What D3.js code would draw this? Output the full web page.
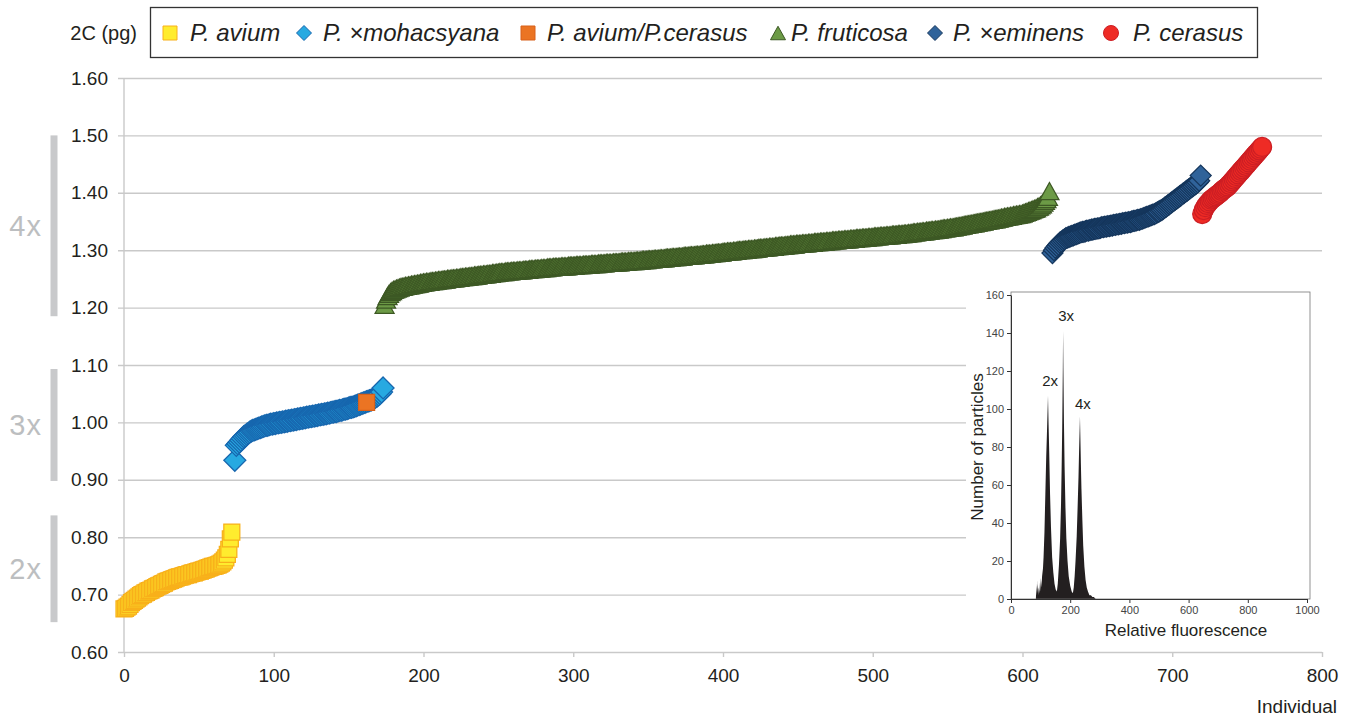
<!DOCTYPE html>
<html><head><meta charset="utf-8">
<script src="https://cdn.jsdelivr.net/npm/d3@7"></script>
<style>
body{margin:0;background:#fff}
svg{display:block}
text{font-family:"Liberation Sans",Arial,Helvetica,sans-serif}
</style>
</head><body>
<svg id="c" width="1353" height="718"></svg>
<script>
// ---------- DATA ----------
const seriesNames = ["P. avium","P. ×mohacsyana","P. avium/P.cerasus","P. fruticosa","P. ×eminens","P. cerasus"];
const seriesStart = [0, 74, 162, 174, 620, 720]; // first "Individual" index of each series

const avium = [
0.675,0.676,0.678,0.680,0.683,0.686,0.688,0.690,0.692,0.694,
0.696,0.698,0.700,0.701,0.703,0.704,0.706,0.707,0.708,0.710,
0.711,0.712,0.714,0.715,0.716,0.718,0.719,0.720,0.722,0.723,
0.724,0.725,0.726,0.727,0.728,0.729,0.730,0.731,0.731,0.732,
0.733,0.734,0.735,0.735,0.736,0.737,0.738,0.738,0.739,0.740,
0.741,0.741,0.742,0.743,0.744,0.745,0.746,0.747,0.748,0.749,
0.749,0.750,0.751,0.752,0.753,0.755,0.757,0.760,0.764,0.770,
0.779,0.797,0.809];

const mohacsyana = [
0.934,0.960,0.963,0.966,0.969,0.972,
0.975,0.977,0.979,0.981,0.983,0.985,0.986,0.987,0.988,0.989,
0.990,0.991,0.992,0.993,0.994,0.995,0.995,0.996,0.997,0.997,
0.998,0.998,0.999,0.999,1.000,1.000,1.001,1.001,1.002,1.002,
1.003,1.003,1.004,1.004,1.005,1.005,1.006,1.006,1.007,1.007,
1.008,1.008,1.009,1.009,1.010,1.010,1.011,1.011,1.012,1.012,
1.013,1.013,1.014,1.014,1.015,1.015,1.016,1.016,1.017,1.018,
1.018,1.019,1.019,1.020,1.021,1.021,1.022,1.023,1.023,1.024,
1.025,1.026,1.026,1.027,1.028,1.029,1.030,1.031,1.032,1.033,
1.034,1.035,1.036,1.037,1.038,1.039,1.040,1.042,1.044,1.046,
1.048,1.050,1.053,1.060];

const aviumCerasus = [1.035];

const fruticosa = [
1.205,1.214,1.220,1.224,1.227,1.229,
1.231,1.232,1.233,1.234,1.235,1.236,1.236,1.237,1.238,1.238,
1.239,1.239,1.240,1.240,1.241,1.241,1.242,1.242,1.243,1.243,
1.244,1.244,1.245,1.245,1.245,1.246,1.246,1.246,1.247,1.247,
1.248,1.248,1.248,1.249,1.249,1.249,1.250,1.250,1.250,1.251,
1.251,1.251,1.252,1.252,1.252,1.253,1.253,1.253,1.254,1.254,
1.254,1.255,1.255,1.255,1.256,1.256,1.256,1.257,1.257,1.257,
1.258,1.258,1.258,1.259,1.259,1.259,1.260,1.260,1.260,1.261,
1.261,1.262,1.262,1.262,1.262,1.263,1.263,1.263,1.263,1.264,
1.264,1.264,1.264,1.265,1.265,1.265,1.265,1.266,1.266,1.266,
1.266,1.267,1.267,1.267,1.267,1.268,1.268,1.268,1.268,1.269,
1.269,1.269,1.269,1.270,1.270,1.270,1.270,1.271,1.271,1.271,
1.271,1.271,1.272,1.272,1.272,1.272,1.272,1.273,1.273,1.273,
1.273,1.273,1.274,1.274,1.274,1.274,1.274,1.275,1.275,1.275,
1.275,1.275,1.276,1.276,1.276,1.276,1.276,1.277,1.277,1.277,
1.277,1.277,1.278,1.278,1.278,1.278,1.278,1.279,1.279,1.279,
1.279,1.279,1.280,1.280,1.280,1.280,1.280,1.281,1.281,1.281,
1.281,1.281,1.282,1.282,1.282,1.282,1.283,1.283,1.283,1.283,
1.284,1.284,1.284,1.284,1.285,1.285,1.285,1.285,1.286,1.286,
1.286,1.286,1.287,1.287,1.287,1.287,1.288,1.288,1.288,1.288,
1.289,1.289,1.289,1.289,1.290,1.290,1.290,1.290,1.291,1.291,
1.291,1.291,1.292,1.292,1.292,1.292,1.293,1.293,1.293,1.294,
1.294,1.294,1.294,1.295,1.295,1.295,1.296,1.296,1.296,1.296,
1.297,1.297,1.297,1.298,1.298,1.298,1.298,1.299,1.299,1.299,
1.300,1.300,1.300,1.300,1.301,1.301,1.301,1.302,1.302,1.302,
1.302,1.303,1.303,1.303,1.304,1.304,1.304,1.304,1.305,1.305,
1.305,1.306,1.306,1.306,1.306,1.307,1.307,1.307,1.308,1.308,
1.308,1.308,1.309,1.309,1.309,1.310,1.310,1.310,1.310,1.311,
1.311,1.311,1.311,1.312,1.312,1.312,1.312,1.313,1.313,1.313,
1.313,1.314,1.314,1.314,1.314,1.315,1.315,1.315,1.315,1.316,
1.316,1.316,1.316,1.317,1.317,1.317,1.317,1.318,1.318,1.318,
1.318,1.319,1.319,1.319,1.319,1.320,1.320,1.320,1.320,1.321,
1.321,1.321,1.321,1.322,1.322,1.322,1.322,1.323,1.323,1.323,
1.323,1.324,1.324,1.324,1.324,1.325,1.325,1.325,1.325,1.326,
1.326,1.326,1.326,1.327,1.327,1.327,1.327,1.328,1.328,1.328,
1.328,1.329,1.329,1.329,1.330,1.330,1.330,1.331,1.331,1.331,
1.332,1.332,1.332,1.333,1.333,1.333,1.334,1.334,1.334,1.335,
1.335,1.335,1.336,1.336,1.336,1.337,1.337,1.338,1.338,1.338,
1.339,1.339,1.340,1.340,1.340,1.341,1.341,1.342,1.342,1.343,
1.343,1.344,1.344,1.345,1.345,1.346,1.346,1.347,1.347,1.348,
1.348,1.349,1.349,1.350,1.350,1.351,1.351,1.352,1.352,1.353,
1.353,1.354,1.354,1.355,1.355,1.356,1.357,1.357,1.358,1.358,
1.359,1.359,1.360,1.360,1.361,1.361,1.362,1.362,1.363,1.363,
1.364,1.365,1.366,1.367,1.368,1.369,1.370,1.371,1.372,1.373,
1.375,1.376,1.378,1.380,1.383,1.386,1.389,1.393,1.403];

const eminens = [
1.295,1.300,1.304,1.307,1.310,1.313,1.315,1.317,1.319,1.321,
1.322,1.323,1.324,1.325,1.326,1.327,1.328,1.329,1.330,1.331,
1.332,1.332,1.333,1.334,1.334,1.335,1.336,1.336,1.337,1.337,
1.338,1.338,1.339,1.340,1.340,1.341,1.341,1.342,1.342,1.343,
1.343,1.344,1.344,1.345,1.345,1.346,1.346,1.347,1.347,1.348,
1.348,1.349,1.349,1.350,1.351,1.351,1.352,1.353,1.353,1.354,
1.355,1.356,1.357,1.358,1.359,1.360,1.361,1.362,1.363,1.364,
1.366,1.367,1.369,1.370,1.372,1.374,1.376,1.378,1.380,1.382,
1.384,1.386,1.388,1.390,1.392,1.394,1.396,1.398,1.400,1.402,
1.404,1.406,1.408,1.410,1.412,1.414,1.416,1.418,1.421,1.430];

const cerasus = [
1.363,1.370,1.375,1.379,1.382,1.385,1.388,1.390,1.392,1.394,
1.396,1.398,1.400,1.403,1.405,1.407,1.409,1.411,1.414,1.417,
1.420,1.423,1.426,1.429,1.432,1.435,1.438,1.441,1.444,1.447,
1.450,1.453,1.456,1.459,1.462,1.465,1.468,1.471,1.474,1.477,
1.480];

const xTicks = [0,100,200,300,400,500,600,700,800];
const yTicks = [0.60,0.70,0.80,0.90,1.00,1.10,1.20,1.30,1.40,1.50,1.60];

const ploidyLabels = ["2x","3x","4x"];
const ploidyRanges = [[0.652,0.838],[0.898,1.093],[1.185,1.500]];

// inset: flow cytometry histogram
const histFluor = [84,86,87,88,89,91,92,94,96,98,99,101,103,105,108,110,113,116,119,121,123,125,127,129,132,135,139,143,147,151,155,158,162,166,169,171,173,175,176,177,179,181,184,187,191,195,200,205,209,212,215,218,222,225,228,230,232,233,234,236,238,241,244,248,252,256,260,265,270,275,280,286];
const histCount = [0,7,2,10,3,8,2,6,3,9,4,11,6,12,16,22,35,55,75,85,96,107,92,78,55,38,22,14,8,5,4,8,18,32,50,68,90,120,141,122,92,70,48,32,20,12,7,4,3,6,12,20,33,48,64,78,90,96,88,72,58,42,28,17,10,6,4,2,2,1,1,0];
const histXTicks = [0,200,400,600,800,1000];
const histYTicks = [0,20,40,60,80,100,120,140,160];
const peakLabels = ["2x","3x","4x"];
const peakFluor = [132,186,243];
const peakCount = [115,149,103];

// ---------- LAYOUT / STYLE ----------
const styles = [
  {shape:"square",  size:16, fill:"#FFEC2E", stroke:"#F8B01A"},
  {shape:"diamond", size:22, fill:"#27A9E1", stroke:"#1766AE"},
  {shape:"square",  size:16, fill:"#EB7423", stroke:"#D8611A"},
  {shape:"triangle",size:19, fill:"#6C9A46", stroke:"#3D5824"},
  {shape:"diamond", size:21, fill:"#30639A", stroke:"#15365C"},
  {shape:"circle",  size:19, fill:"#EE2B25", stroke:"#CC1E24"}
];
const seriesValues = [avium, mohacsyana, aviumCerasus, fruticosa, eminens, cerasus];

function shapePath(shape, s){
  const h=s/2;
  if(shape==="square") return `M${-h},${-h}h${s}v${s}h${-s}Z`;
  if(shape==="diamond") return `M0,${-h}L${h},0L0,${h}L${-h},0Z`;
  if(shape==="triangle"){const th=s*0.9/2; return `M0,${-th}L${h},${th}L${-h},${th}Z`;}
  return d3.arc()({innerRadius:0,outerRadius:h,startAngle:0,endAngle:2*Math.PI});
}

const svg = d3.select("#c");
const x = d3.scaleLinear().domain([0,800]).range([124,1322]);
const y = d3.scaleLinear().domain([0.6,1.6]).range([652,78]);

// gridlines + y labels
const gy = svg.append("g").attr("transform","translate(118,0)")
  .call(d3.axisLeft(y).tickValues(yTicks).tickSize(-(1322-118)).tickPadding(10).tickFormat(d3.format(".2f")));
gy.select(".domain").remove();
gy.selectAll(".tick line").attr("stroke","#c9c9c9").attr("stroke-width",1.4);
gy.selectAll(".tick text").attr("font-size",19).attr("fill","#231f20").attr("font-family","Liberation Sans, Arial, sans-serif");

// x axis
const gx = svg.append("g").attr("transform","translate(0,652)")
  .call(d3.axisBottom(x).tickValues(xTicks).tickSize(5).tickPadding(12).tickSizeOuter(0));
gx.select(".domain").remove();
gx.selectAll(".tick line").attr("stroke","#c9c9c9").attr("stroke-width",1.4);
gx.selectAll(".tick text").attr("font-size",19).attr("fill","#231f20").attr("font-family","Liberation Sans, Arial, sans-serif");

// y axis line
svg.append("line").attr("x1",x(0)).attr("x2",x(0)).attr("y1",y(1.6)).attr("y2",y(0.6))
  .attr("stroke","#c9c9c9").attr("stroke-width",1.4);

svg.append("text").attr("x",1337).attr("y",713).attr("text-anchor","end")
  .attr("font-size",19).attr("fill","#231f20").text("Individual");

// ploidy bars
ploidyLabels.forEach((lab,i)=>{
  const [a,b]=ploidyRanges[i];
  svg.append("rect").attr("x",50.5).attr("width",7).attr("y",y(b)).attr("height",y(a)-y(b)).attr("fill","#c8c9cb");
  svg.append("text").attr("x",42).attr("y",(y(a)+y(b))/2).attr("dy","0.36em").attr("text-anchor","end")
    .attr("font-size",29).attr("letter-spacing",1).attr("fill","#bcbec0").text(lab);
});

// inset white background
svg.append("rect").attr("x",966).attr("y",282).attr("width",360).attr("height",364).attr("fill","#fff");

// series markers
seriesValues.forEach((vals,si)=>{
  const st=styles[si];
  const g=svg.append("g");
  g.selectAll("path").data(vals).enter().append("path")
    .attr("transform",(d,i)=>`translate(${x(seriesStart[si]+i)},${y(d)})`)
    .attr("d",shapePath(st.shape,st.size))
    .attr("fill",st.fill).attr("stroke",st.stroke).attr("stroke-width",1.25);
});

// legend
svg.append("text").attr("x",137).attr("y",33).attr("dy","0.35em").attr("text-anchor","end")
  .attr("font-size",20).attr("fill","#231f20").text("2C (pg)");
svg.append("rect").attr("x",150.5).attr("y",7.5).attr("width",1107).attr("height",50)
  .attr("fill","#fff").attr("stroke","#333").attr("stroke-width",1.3);
const legSymX=[170,304,528,778,935,1111];
const legTxtX=[190,323,547,791,953,1133];
const legSize=[14,15,14,15,15,15];
seriesNames.forEach((nm,i)=>{
  const st=styles[i];
  svg.append("path").attr("transform",`translate(${legSymX[i]},33)`)
    .attr("d",shapePath(st.shape,legSize[i])).attr("fill",st.fill).attr("stroke",st.stroke).attr("stroke-width",1);
  svg.append("text").attr("x",legTxtX[i]).attr("y",33).attr("dy","0.35em")
    .attr("font-size",24).attr("font-style","italic").attr("fill","#231f20").text(nm);
});

// ---------- INSET ----------
const ix = d3.scaleLinear().domain([0,1000]).range([1011,1307]);
const iy = d3.scaleLinear().domain([0,160]).range([599,295]);
const hist = histFluor.map((f,i)=>({f, c:histCount[i]}));
svg.append("path").datum(hist)
  .attr("d",d3.area().x(d=>ix(d.f)).y0(iy(0)).y1(d=>iy(d.c)))
  .attr("fill","#231f20");
svg.append("rect").attr("x",1011).attr("y",292).attr("width",299).attr("height",307)
  .attr("fill","none").attr("stroke","#777").attr("stroke-width",0.8);
const iax = svg.append("g").attr("transform","translate(0,599)")
  .call(d3.axisBottom(ix).tickValues(histXTicks).tickSize(4).tickPadding(3).tickSizeOuter(0).tickFormat(d3.format("d")));
const iay = svg.append("g").attr("transform","translate(1011,0)")
  .call(d3.axisLeft(iy).tickValues(histYTicks).tickSize(4).tickPadding(3).tickSizeOuter(0).tickFormat(d3.format("d")));
[iax,iay].forEach(g=>{
  g.select(".domain").attr("stroke","#333").attr("stroke-width",1);
  g.selectAll(".tick line").attr("stroke","#333");
  g.selectAll(".tick text").attr("font-size",11).attr("fill","#444").attr("font-family","Liberation Sans, Arial, sans-serif");
});
svg.append("text").attr("transform","translate(983,447) rotate(-90)").attr("text-anchor","middle")
  .attr("font-size",17).attr("fill","#231f20").text("Number of particles");
svg.append("text").attr("x",1186).attr("y",636).attr("text-anchor","middle")
  .attr("font-size",17).attr("fill","#231f20").text("Relative fluorescence");
peakLabels.forEach((lab,i)=>{
  svg.append("text").attr("x",ix(peakFluor[i])).attr("y",iy(peakCount[i])).attr("dy","0.35em")
    .attr("text-anchor","middle").attr("font-size",15).attr("font-family","Open Sans, DejaVu Sans, sans-serif")
    .attr("fill","#231f20").text(lab);
});
</script>
</body></html>
